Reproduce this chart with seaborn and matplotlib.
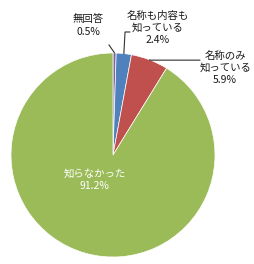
import numpy as np
import matplotlib
matplotlib.use("Agg")
import matplotlib.pyplot as plt
import seaborn as sns

categories = ["無回答", "名称も内容も\n知っている", "名称のみ\n知っている", "知らなかった"]
values = [0.5, 2.4, 5.9, 91.2]
pct_labels = ["0.5%", "2.4%", "5.9%", "91.2%"]
colors = ["#8064A2", "#4F81BD", "#C0504D", "#9BBB59"]

sns.set_theme(style="white")
plt.rcParams['font.family'] = ['Noto Sans CJK JP', 'DejaVu Sans']

fig = plt.figure(figsize=(2.55, 2.64), dpi=100)
ax = fig.add_axes([0.0431, 0.0265, 0.8, 0.7727])
wedges, _ = ax.pie(values, colors=sns.color_palette(colors), startangle=90,
                   counterclock=False, radius=1.0,
                   wedgeprops=dict(edgecolor="white", linewidth=0.5))
ax.set_xlim(-1, 1)
ax.set_ylim(-1, 1)
ax.set_aspect("equal")
ax.axis("off")

fs = 7.5
# label positions (text layout, data units)
label_pos = [(-0.245, 1.27), (0.44, 1.245), (1.10, 0.853), (-0.18, -0.245)]
text_colors = ["#1a1a1a", "#1a1a1a", "#1a1a1a", "white"]
for i, (cat, pct) in enumerate(zip(categories, pct_labels)):
    x, y = label_pos[i]
    ax.text(x, y, f"{cat}\n{pct}", ha="center", va="center", fontsize=fs,
            color=text_colors[i], linespacing=1.3, clip_on=False)

def edge_point(w):
    ang = np.deg2rad((w.theta1 + w.theta2) / 2)
    return np.cos(ang), np.sin(ang)

lc = "#303030"
# 無回答 leader
px, py = edge_point(wedges[0])
ax.plot([-0.04, px], [1.08, py], color=lc, lw=0.8, clip_on=False)
# 名称も内容も leader
px, py = edge_point(wedges[1])
ax.plot([0.167, 0.118, px], [1.206, 1.206, py], color=lc, lw=0.8, clip_on=False)
# 名称のみ leader
px, py = edge_point(wedges[2])
ax.plot([0.853, 0.36, px], [0.93, 0.93, py], color=lc, lw=0.8, clip_on=False)

fig.savefig("out.png", dpi=100)
